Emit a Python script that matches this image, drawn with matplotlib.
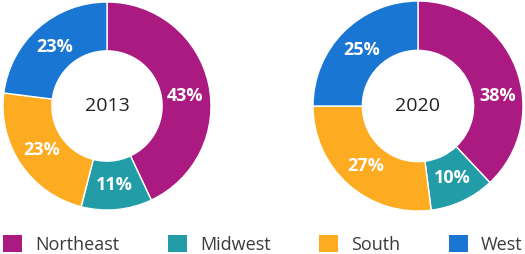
import numpy as np
import matplotlib
matplotlib.use("Agg")
import matplotlib.pyplot as plt
from matplotlib.patches import Patch

regions = ["Northeast", "Midwest", "South", "West"]
colors = ["#AB1A80", "#229DA8", "#FDAB21", "#1A76D3"]
years = ["2013", "2020"]
shares_2013 = [43, 11, 23, 23]
shares_2020 = [38, 10, 27, 25]
shares = [shares_2013, shares_2020]

W, H = 525, 254
fig = plt.figure(figsize=(W / 100, H / 100), dpi=100)

font = "Open Sans"
PCT_R = 0.76
FIRST_LABEL_ANGLE = 7.0  # degrees; the reference sets the first slice's label near the horizontal
centers = [(107, 106, 104), (418, 106, 105)]
for (cx, cy, r), year, vals in zip(centers, years, shares):
    ax = fig.add_axes([(cx - r) / W, (H - cy - r) / H, 2 * r / W, 2 * r / H])
    wedges, texts, autotexts = ax.pie(
        vals, colors=colors, startangle=90, counterclock=False,
        autopct=lambda p: f"{p:.0f}%", pctdistance=PCT_R,
        wedgeprops=dict(width=0.47, edgecolor="white", linewidth=1.0),
        textprops=dict(color="white", fontsize=13, fontweight="bold", family=font),
    )
    # nudge the first slice's label toward the horizontal, as in the reference
    w0 = wedges[0]
    a = np.deg2rad(max(min(FIRST_LABEL_ANGLE, w0.theta2), w0.theta1))
    autotexts[0].set_position((PCT_R * np.cos(a), PCT_R * np.sin(a)))
    ax.text(0, 0, year, ha="center", va="center", fontsize=14,
            color="#222222", family=font)
    ax.set_aspect("equal")
    ax.set_xlim(-1, 1)
    ax.set_ylim(-1, 1)
    ax.axis("off")

handles = [Patch(facecolor=c, edgecolor="none") for c in colors]
leg = fig.legend(handles, regions, loc="lower left", bbox_to_anchor=(3 / W, 0.0),
                 ncol=4, frameon=False, handlelength=1.05, handleheight=1.05,
                 handletextpad=0.72, columnspacing=2.7, borderpad=0.0,
                 borderaxespad=0.0,
                 prop=dict(family=font, size=13))
for t in leg.get_texts():
    t.set_color("#3a3a3a")

fig.savefig("out.png", dpi=100)
